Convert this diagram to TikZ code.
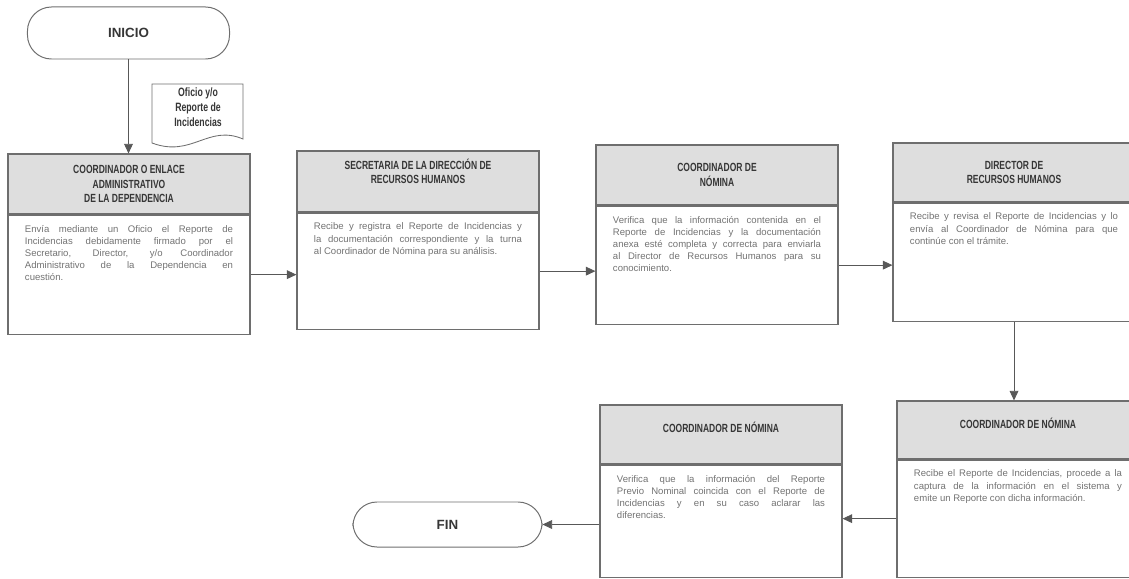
\documentclass[tikz,border=0pt]{standalone}
\usepackage{fontspec}
\setmainfont{Liberation Sans}
\newfontfamily\titulo[FakeStretch=0.72]{Liberation Sans}
\usetikzlibrary{arrows.meta}
\definecolor{borde}{HTML}{6E6E6E}
\definecolor{fondo}{HTML}{DEDEDE}
\definecolor{tinta}{HTML}{363636}
\definecolor{gris}{HTML}{727272}
\newcommand{\texto}[2]{\parbox[c][#1][t]{5.2cm}{\vspace{7pt}\fontsize{6.8}{8.6}\selectfont\color{gris}#2}}

\begin{document}
\begin{tikzpicture}[x=0.025cm,y=-0.025cm]
        \tikzstyle{extremo} = [rectangle, rounded corners=.6cm, draw=borde, line width=.7pt, minimum width=5.05cm, minimum height=1.3cm, text=tinta, font=\bfseries\fontsize{9.5}{11}\selectfont]
        \tikzstyle{cabeza} = [rectangle, draw=borde, fill=fondo, line width=.8pt, minimum width=6.05cm, inner sep=0pt, align=center, text=tinta, font=\titulo\bfseries\fontsize{8.4}{10.2}\selectfont]
        \tikzstyle{cuerpo} = [rectangle, draw=borde, line width=.8pt, minimum width=6.05cm, inner sep=0pt, anchor=north]
        \tikzstyle{line} = [-{Triangle[length=2.4mm,width=2.2mm]}, draw=borde!80!black, line width=.6pt]
        \useasboundingbox (0,0) rectangle (1129,578);
        \node[extremo] (inicio) at (128.5,33) {INICIO};
        % documento de entrada
        \draw[borde, line width=.6pt] (152,84) -- (243,84) -- (243,139) .. controls (208,124) and (192,158) .. (152,143) -- cycle;
        \node[font=\titulo\bfseries\fontsize{8.6}{10.8}\selectfont, text=tinta, align=center] (oficio) at (198,107) {Oficio y/o\\Reporte de\\Incidencias};
        \node[cabeza, minimum height=1.5cm] (enlace) at (129,184) {COORDINADOR O ENLACE\\ADMINISTRATIVO\\DE LA DEPENDENCIA};
        \node[cuerpo] (enlacetxt) at (enlace.south) {\texto{2.975cm}{Envía mediante un Oficio el Reporte de\linebreak Incidencias debidamente firmado por el\linebreak Secretario, Director, y/o Coordinador\linebreak Administrativo de la Dependencia en\linebreak cuestión.}};
        \node[cabeza, minimum height=1.525cm] (secre) at (418,181.5) {SECRETARIA DE LA DIRECCIÓN DE\\RECURSOS HUMANOS\\[4pt]};
        \node[cuerpo] (secretxt) at (secre.south) {\texto{2.9cm}{Recibe y registra el Reporte de Incidencias y\linebreak la documentación correspondiente y la turna\linebreak al Coordinador de Nómina para su análisis.}};
        \node[cabeza, minimum height=1.5cm] (nomina) at (717,175) {COORDINADOR DE\\NÓMINA};
        \node[cuerpo] (nominatxt) at (nomina.south) {\texto{2.95cm}{Verifica que la información contenida en el\linebreak Reporte de Incidencias y la documentación\linebreak anexa esté completa y correcta para enviarla\linebreak al Director de Recursos Humanos para su\linebreak conocimiento.}};
        \node[cabeza, minimum height=1.475cm] (director) at (1014,172.5) {DIRECTOR DE\\RECURSOS HUMANOS};
        \node[cuerpo] (directortxt) at (director.south) {\texto{2.95cm}{Recibe y revisa el Reporte de Incidencias y lo\linebreak envía al Coordinador de Nómina para que\linebreak continúe con el trámite.}};
        \node[cabeza, minimum height=1.45cm] (captura) at (1018,430) {COORDINADOR DE NÓMINA\\\mbox{}};
        \node[cuerpo] (capturatxt) at (captura.south) {\texto{2.925cm}{Recibe el Reporte de Incidencias, procede a la\linebreak captura de la información en el sistema y\linebreak emite un Reporte con dicha información.}};
        \node[cabeza, minimum height=1.475cm] (verifica) at (721,434.5) {COORDINADOR DE NÓMINA\\\mbox{}};
        \node[cuerpo] (verificatxt) at (verifica.south) {\texto{2.8cm}{Verifica que la información del Reporte\linebreak Previo Nominal coincida con el Reporte de\linebreak Incidencias y en su caso aclarar las\linebreak diferencias.}};
        \node[extremo, minimum width=4.725cm, minimum height=1.125cm] (fin) at (447.5,524.5) {FIN};
        \draw[line] (inicio.south) -- (inicio.south |- enlace.north);
        \draw[line] (enlacetxt.east) -- (enlacetxt.east -| secretxt.west);
        \draw[line] (secretxt.east) -- (secretxt.east -| nominatxt.west);
        \draw[line] (nominatxt.east) -- (nominatxt.east -| directortxt.west);
        \draw[line] (directortxt.south) -- (directortxt.south |- captura.north);
        \draw[line] (capturatxt.west) -- (capturatxt.west -| verificatxt.east);
        \draw[line] (verificatxt.west |- fin.east) -- (fin.east);
    \end{tikzpicture}
\end{document}
